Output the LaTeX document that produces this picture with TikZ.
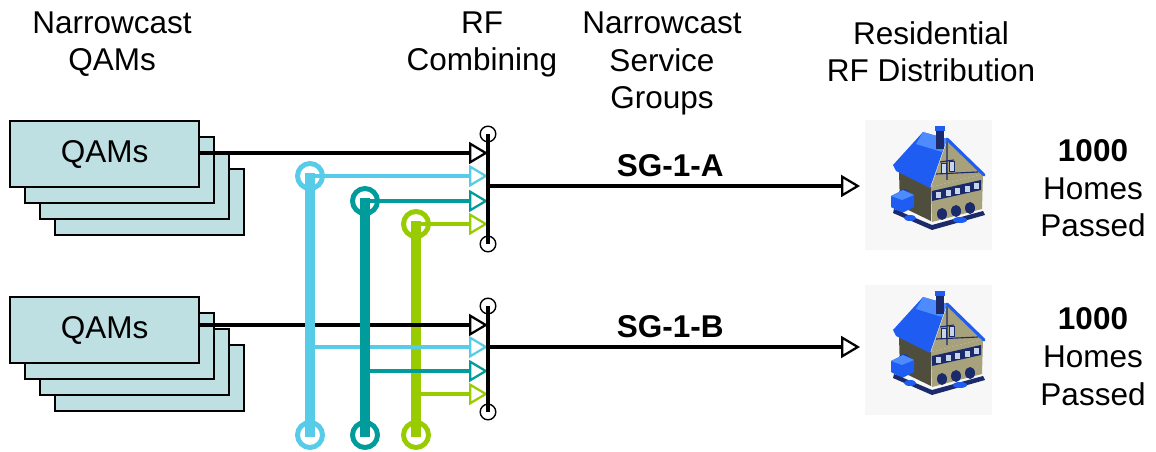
\documentclass[tikz,border=0pt]{standalone}
\usepackage{fontspec}
\setmainfont{Liberation Sans}
\usetikzlibrary{arrows.meta}

\definecolor{qamfill}{HTML}{BFE0E2}
\definecolor{busCyan}{HTML}{56CCE8}
\definecolor{busTeal}{HTML}{009B9B}
\definecolor{busGreen}{HTML}{99CC00}
\definecolor{homebg}{HTML}{F7F7F7}
\definecolor{wallside}{HTML}{4F4D3C}
\definecolor{walltan}{HTML}{A8A27C}
\definecolor{roofblue}{HTML}{1F5DF2}
\definecolor{roofhi}{HTML}{4D8BFF}
\definecolor{trimdark}{HTML}{1A2A6A}
\definecolor{winlight}{HTML}{C8D4E8}

\tikzset{
  bigfont/.style={font=\fontsize{22.4}{27}\selectfont},
  lbl/.style={bigfont, align=center, inner sep=0pt, anchor=base},
  qambox/.style={draw=black, line width=0.9pt, fill=qamfill, bigfont,
    minimum width=4.725cm, minimum height=1.65cm, inner sep=0pt},
  opentip/.style={-{Triangle[open, length=0.475cm, width=0.55cm, line width=1.6pt]}},
  feed/.style={line width=2.4pt, opentip},
  tap/.style={line width=2.6pt, opentip},
  bus/.style={line width=7.5pt, shorten <=-0.075cm, shorten >=-0.05cm},
  ring/.style={circle, draw, line width=3.5pt, minimum size=0.625cm, inner sep=0pt},
  port/.style={circle, draw=black, line width=1pt, minimum size=0.39cm, inner sep=0pt},
  combiner/.style={line width=2.2pt},
  home/.pic={
    % faint backdrop
    \fill[homebg] (-75,-62) rectangle (52,68);
    % shaded side wall
    \fill[wallside] (-41,-10) -- (-9,5) -- (-9,39) -- (-40,24) -- cycle;
    % front wall and gable
    \fill[walltan] (-9,5) -- (43,-8) -- (42,27) -- (-8,40) -- cycle;
    \fill[walltan] (-9,5) -- (7,-41) -- (43,-8) -- cycle;
    % half-timbering on the gable
    \draw[trimdark, line width=0.8pt] (-4,-8) -- (38,-10) (7,-41) -- (7,-2)
      (0,-20) -- (14,-22);
    \fill[winlight] (1,-19) rectangle (6,-9);
    \fill[winlight] (9,-21) rectangle (14,-11);
    \draw[trimdark, line width=0.7pt] (1,-19) rectangle (6,-9) (9,-21) rectangle (14,-11);
    % window band
    \fill[trimdark] (-8,9) -- (41,-2) -- (41,8) -- (-8,19) -- cycle;
    \foreach \i in {0,1,2,3,4}
      \fill[winlight] ({-4+9.5*\i},{10-2.15*\i}) rectangle ++(5,6);
    % arched lower openings
    \foreach \i in {0,1,2}
      \fill[trimdark] ({2+14*\i},{32-3*\i}) ellipse (5 and 6);
    \fill[roofblue!70!black] (-36,14) ellipse (6 and 7);
    % porch on the side
    \fill[roofblue] (-49,14) -- (-37,8) -- (-26,13) -- (-26,25) -- (-38,31) -- (-49,25) -- cycle;
    \fill[roofhi] (-49,14) -- (-37,8) -- (-26,13) -- (-38,18) -- cycle;
    % base shadow
    \fill[trimdark] (-46,27) -- (-8,43) -- (43,29) -- (45,33) -- (-8,48) -- (-47,31) -- cycle;
    \fill[roofblue] (-30,36) ellipse (6 and 3);
    \fill[roofblue] (20,38) ellipse (7 and 3);
    % roof
    \fill[roofblue] (-47,-17) -- (-17,-50) -- (7,-43) -- (-10,6) -- (-44,-11) -- cycle;
    \fill[roofhi] (-17,-50) -- (7,-43) -- (2,-30) -- (-24,-38) -- cycle;
    \draw[roofblue, line width=2.2pt, line cap=round] (7,-43) -- (44,-7);
    % chimney
    \fill[trimdark] (-4,-54) rectangle (4,-33);
    \fill[roofblue] (-5,-56) rectangle (5,-51);
  }
}

\begin{document}
\begin{tikzpicture}[x=0.025cm, y=-0.025cm]
  \useasboundingbox (0,0) rectangle (1156,452);

  % column headings (anchored at the baseline of their last line)
  \node[lbl] (hQam) at (112,71) {Narrowcast\\QAMs};
  \node[lbl] (hRf)  at (482,71) {RF\\Combining};
  \node[lbl] (hSg)  at (662,109) {Narrowcast\\Service\\Groups};
  \node[lbl] (hRes) at (931,82) {Residential\\RF Distribution};

  % QAM stacks
  \foreach \s/\cy in {A/154, B/330} {
    \node[qambox] (qam\s4) at (149.5,\cy+48) {};
    \node[qambox] (qam\s3) at (134.5,\cy+32) {};
    \node[qambox] (qam\s2) at (119.5,\cy+16) {};
    \node[qambox] (qam\s)  at (104.5,\cy) {QAMs};
  }

  % combiners
  \node[port] (cAt) at (488,134) {};
  \node[port] (cAb) at (488,244) {};
  \node[port] (cBt) at (488,306) {};
  \node[port] (cBb) at (488,412) {};

  % rings at the ends of the shared buses
  \node[ring, draw=busCyan]  (rC1) at (310,176) {};
  \node[ring, draw=busCyan]  (rC2) at (310,435) {};
  \node[ring, draw=busTeal]  (rT1) at (365,201) {};
  \node[ring, draw=busTeal]  (rT2) at (365,435) {};
  \node[ring, draw=busGreen] (rG1) at (416,224) {};
  \node[ring, draw=busGreen] (rG2) at (416,435) {};

  % tap points on the buses for group B
  \coordinate (tCB) at (310,347);
  \coordinate (tTB) at (365,371);
  \coordinate (tGB) at (416,394);

  % combiner inputs and outputs
  \coordinate (inA) at (488,153);
  \coordinate (inB) at (488,325);
  \coordinate (outA) at (488,186);
  \coordinate (outB) at (488,347);
  \coordinate (homeAin) at (860,186);
  \coordinate (homeBin) at (860,347);

  % green bus lies underneath
  \draw[bus, busGreen] (rG1.center) -- (rG2.center);

  % QAM feeds
  \draw[feed] (qamA.east |- inA) -- (inA);
  \draw[feed] (qamB.east |- inB) -- (inB);

  % bus taps into the combiners
  \draw[tap, busCyan]  (rC1.center) -- (rC1.center -| cAt);
  \draw[tap, busTeal]  (rT1.center) -- (rT1.center -| cAt);
  \draw[tap, busGreen] (rG1.center) -- (rG1.center -| cAt);
  \draw[tap, busCyan]  (tCB) -- (tCB -| cBt);
  \draw[tap, busTeal]  (tTB) -- (tTB -| cBt);
  \draw[tap, busGreen] (tGB) -- (tGB -| cBt);

  % cyan and teal buses on top
  \draw[bus, busCyan] (rC1.center) -- (rC2.center);
  \draw[bus, busTeal] (rT1.center) -- (rT2.center);

  % combiner bars
  \draw[combiner] (cAt.center) -- (cAb.center);
  \draw[combiner] (cBt.center) -- (cBb.center);

  % service group outputs
  \draw[feed] (outA) -- node[lbl, font=\fontsize{22.4}{27}\selectfont\bfseries, anchor=base, pos=0.49, yshift=0.225cm] (sgA) {SG-1-A} (homeAin);
  \draw[feed] (outB) -- node[lbl, font=\fontsize{22.4}{27}\selectfont\bfseries, anchor=base, pos=0.49, yshift=0.225cm] (sgB) {SG-1-B} (homeBin);

  % homes
  \pic at (940,182) {home};
  \pic at (940,347) {home};

  \node[lbl] (hpA) at (1093,237) {\textbf{1000}\\Homes\\Passed};
  \node[lbl] (hpB) at (1093,405) {\textbf{1000}\\Homes\\Passed};
\end{tikzpicture}
\end{document}
